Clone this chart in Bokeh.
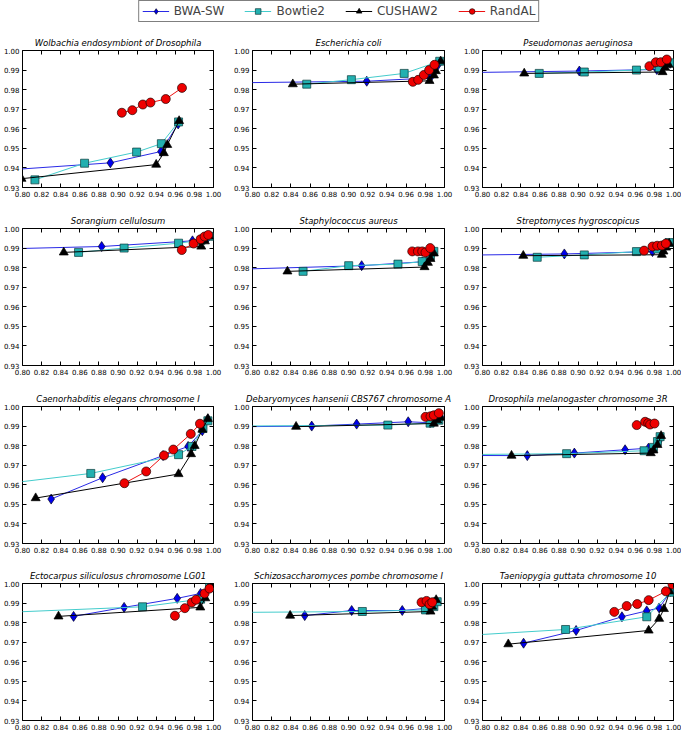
from bokeh.plotting import figure
from bokeh.layouts import column, row
from bokeh.models import FixedTicker, PrintfTickFormatter, LinearAxis, Legend, LegendItem
from bokeh.embed import file_html
from bokeh.resources import INLINE

# ---------------- data ----------------
titles = [
    "Wolbachia endosymbiont of Drosophila", "Escherichia coli", "Pseudomonas aeruginosa",
    "Sorangium cellulosum", "Staphylococcus aureus", "Streptomyces hygroscopicus",
    "Caenorhabditis elegans chromosome I", "Debaryomyces hansenii CBS767 chromosome A",
    "Drosophila melanogaster chromosome 3R",
    "Ectocarpus siliculosus chromosome LG01", "Schizosaccharomyces pombe chromosome I",
    "Taeniopygia guttata chromosome 10",
]
series_names = ["BWA-SW", "Bowtie2", "CUSHAW2", "RandAL"]
x_ticks = [0.80, 0.82, 0.84, 0.86, 0.88, 0.90, 0.92, 0.94, 0.96, 0.98, 1.00]
y_ticks = [0.93, 0.94, 0.95, 0.96, 0.97, 0.98, 0.99, 1.00]

bwa_x = [
    [0.75, 0.892, 0.945, 0.963],
    [0.75, 0.919, 0.985, 0.993],
    [0.75, 0.9014, 0.9825, 0.9965],
    [0.75, 0.8829, 0.978, 0.9941],
    [0.75, 0.9137, 0.977, 0.9889],
    [0.75, 0.8857, 0.978, 0.992],
    [0.830, 0.8839, 0.9472, 0.9734, 0.9883, 0.9941],
    [0.75, 0.8617, 0.9085, 0.9622, 0.985, 0.9958],
    [0.75, 0.8469, 0.8962, 0.9493, 0.9738, 0.9843],
    [0.8535, 0.9064, 0.962, 0.9865, 0.9958],
    [0.8544, 0.9033, 0.956, 0.981, 0.9913],
    [0.843, 0.898, 0.946, 0.972, 0.985, 0.997],
]
bwa_y = [
    [0.9378, 0.9426, 0.9484, 0.9625],
    [0.9833, 0.9843, 0.986, 0.9925],
    [0.9885, 0.9895, 0.9903, 0.9935],
    [0.9892, 0.9908, 0.9937, 0.9954],
    [0.9787, 0.981, 0.983, 0.9883],
    [0.9862, 0.987, 0.9882, 0.9923],
    [0.9527, 0.9636, 0.9749, 0.9796, 0.9876, 0.9935],
    [0.9895, 0.990, 0.991, 0.9922, 0.9917, 0.9948],
    [0.9750, 0.9749, 0.9762, 0.9779, 0.9787, 0.9821],
    [0.9832, 0.9878, 0.9924, 0.9949, 0.9985],
    [0.9836, 0.9862, 0.9862, 0.9873, 0.9905],
    [0.9695, 0.976, 0.983, 0.986, 0.9875, 0.996],
]
bt2_x = [
    [0.813, 0.865, 0.9195, 0.9454, 0.9634],
    [0.8565, 0.903, 0.958, 0.995],
    [0.8594, 0.9066, 0.9612, 0.985, 0.9965],
    [0.8587, 0.9064, 0.9634, 0.987, 0.996],
    [0.8527, 0.9002, 0.9515, 0.9768, 0.9854, 0.9889],
    [0.8573, 0.9066, 0.9612, 0.9832, 0.9955],
    [0.75, 0.8715, 0.9634, 0.9775, 0.989, 0.9941],
    [0.75, 0.941, 0.985, 0.9941],
    [0.75, 0.8881, 0.9692, 0.979, 0.9832, 0.986],
    [0.75, 0.9257, 0.9865, 0.9958],
    [0.75, 0.9144, 0.9802, 0.9889, 0.9924],
    [0.75, 0.887, 0.972, 0.997],
]
bt2_y = [
    [0.9339, 0.9424, 0.9481, 0.9524, 0.9635],
    [0.9828, 0.9851, 0.9883, 0.9945],
    [0.9883, 0.989, 0.990, 0.991, 0.9937],
    [0.9878, 0.990, 0.9925, 0.994, 0.996],
    [0.9781, 0.981, 0.9818, 0.9831, 0.9861, 0.9883],
    [0.9853, 0.9865, 0.9882, 0.9895, 0.9928],
    [0.9587, 0.9658, 0.9754, 0.9796, 0.9888, 0.9927],
    [0.9899, 0.9905, 0.9915, 0.993],
    [0.9753, 0.9759, 0.9774, 0.9791, 0.9821, 0.9846],
    [0.9846, 0.9881, 0.992, 0.998],
    [0.9851, 0.9857, 0.9865, 0.9882, 0.9907],
    [0.9725, 0.9765, 0.983, 0.9955],
]
cu_x = [
    [0.799, 0.940, 0.948, 0.9516, 0.964],
    [0.842, 0.9844, 0.989, 0.991, 0.996],
    [0.8437, 0.9885, 0.9913, 0.9948],
    [0.8432, 0.9872, 0.991, 0.9955],
    [0.8364, 0.9792, 0.9827, 0.9854, 0.9889],
    [0.8427, 0.9878, 0.9895, 0.9923, 0.9955],
    [0.8138, 0.9634, 0.9765, 0.9803, 0.9883, 0.9941],
    [0.8454, 0.9889, 0.9924, 0.9958],
    [0.8304, 0.9762, 0.979, 0.9832, 0.987],
    [0.8377, 0.9862, 0.9914, 0.9969],
    [0.8392, 0.9854, 0.9872, 0.9913],
    [0.827, 0.974, 0.985, 0.990, 0.996],
]
cu_y = [
    [0.9345, 0.9417, 0.9476, 0.9518, 0.964],
    [0.9828, 0.9845, 0.9873, 0.9895, 0.9945],
    [0.9883, 0.989, 0.9912, 0.9928],
    [0.9878, 0.9908, 0.9935, 0.996],
    [0.9781, 0.9803, 0.9825, 0.9845, 0.9873],
    [0.9861, 0.9866, 0.9883, 0.9903, 0.9923],
    [0.9532, 0.9655, 0.9757, 0.9799, 0.9882, 0.9937],
    [0.9897, 0.9913, 0.993, 0.9943],
    [0.9749, 0.9762, 0.9776, 0.9804, 0.985],
    [0.9832, 0.9878, 0.9925, 0.9993],
    [0.9836, 0.9857, 0.9882, 0.9916],
    [0.969, 0.976, 0.982, 0.987, 0.996],
]
ra_x = [
    [0.904, 0.915, 0.926, 0.934, 0.950, 0.967],
    [0.967, 0.9726, 0.9785, 0.984, 0.9896],
    [0.9748, 0.9815, 0.9867, 0.993],
    [0.9668, 0.9792, 0.9865, 0.9907, 0.9945],
    [0.9664, 0.9723, 0.9768, 0.9802, 0.9851],
    [0.9692, 0.978, 0.9829, 0.9878, 0.992],
    [0.9067, 0.9295, 0.9482, 0.9579, 0.9762, 0.9858],
    [0.9802, 0.9854, 0.9889, 0.9941],
    [0.9615, 0.9703, 0.9735, 0.9755, 0.9801],
    [0.9596, 0.97, 0.9772, 0.9817, 0.9907, 0.9958],
    [0.9761, 0.9813, 0.9844, 0.9872],
    [0.938, 0.951, 0.962, 0.974, 0.992, 0.999],
]
ra_y = [
    [0.9682, 0.9695, 0.9724, 0.9734, 0.9752, 0.9809],
    [0.984, 0.985, 0.9875, 0.990, 0.9927],
    [0.992, 0.994, 0.994, 0.9954],
    [0.989, 0.9923, 0.9945, 0.9959, 0.9967],
    [0.9883, 0.9883, 0.9883, 0.9878, 0.990],
    [0.9887, 0.9908, 0.9912, 0.9913, 0.9923],
    [0.9608, 0.9668, 0.975, 0.978, 0.986, 0.9912],
    [0.9947, 0.995, 0.9955, 0.9966],
    [0.9905, 0.9922, 0.9915, 0.9908, 0.9913],
    [0.9835, 0.9874, 0.9903, 0.9917, 0.9949, 0.9974],
    [0.9904, 0.9911, 0.9894, 0.9904],
    [0.9855, 0.9885, 0.9895, 0.9915, 0.996, 0.9995],
]

# ---------------- styles ----------------
FONT = "DejaVu Sans"
styles = [
    dict(line="#2a2ae6", marker="diamond", size=10, fill="#0000ee", edge="#000022"),
    dict(line="#44cccc", marker="square", size=8, fill="#22b0b0", edge="#0a3a3a"),
    dict(line="#000000", marker="triangle", size=9, fill="#000000", edge="#000000"),
    dict(line="#ee1111", marker="circle", size=9, fill="#ee0000", edge="#220000"),
]
all_x = [bwa_x, bt2_x, cu_x, ra_x]
all_y = [bwa_y, bt2_y, cu_y, ra_y]

FRAME_H = 137
LEFTS = [20, 22, 22]
FRAME_WS = [193, 192, 191]
RIGHTS = [17, 16, 8]
TOPS = [28, 27, 27, 26]
BOTTOMS = [14, 14, 14, 12]


def style_axis(ax, ticks, labels):
    ax.ticker = FixedTicker(ticks=ticks)
    ax.formatter = PrintfTickFormatter(format="%.2f")
    ax.major_tick_in = 4
    ax.major_tick_out = 0
    ax.minor_tick_line_color = None
    ax.axis_line_color = None
    ax.major_tick_line_color = "black"
    ax.major_tick_line_width = 1
    if labels:
        ax.major_label_text_font = FONT
        ax.major_label_text_font_size = "7px"
        ax.major_label_text_color = "black"
        ax.major_label_standoff = 3
    else:
        ax.major_label_text_font_size = "1px"
        ax.major_label_text_color = None
        ax.major_label_standoff = 0


def make_panel(i):
    c, r = i % 3, i // 3
    L, W, R = LEFTS[c], FRAME_WS[c], RIGHTS[c]
    T, B = TOPS[r], BOTTOMS[r]
    p = figure(width=L + W + R, height=T + FRAME_H + B,
               x_range=(0.80, 1.00), y_range=(0.93, 1.00),
               min_border_left=L, min_border_right=R, min_border_top=T,
               min_border_bottom=B, output_backend="svg", toolbar_location=None,
               x_axis_location=None, y_axis_location=None)
    p.grid.visible = False
    p.outline_line_color = "black"
    p.outline_line_width = 1
    p.background_fill_color = "white"
    p.border_fill_color = "white"
    for loc, ticks, lab in (("below", x_ticks, True), ("left", y_ticks, True),
                            ("above", x_ticks, False), ("right", y_ticks, False)):
        ax = LinearAxis()
        style_axis(ax, ticks, lab)
        p.add_layout(ax, loc)
    p.title.text = titles[i]
    p.title.text_font = FONT
    p.title.text_font_style = "italic"
    p.title.text_font_size = "8.5px"
    p.title.text_color = "black"
    p.title.align = "center"
    p.title.standoff = 6
    for k, st in enumerate(styles):
        xs, ys = all_x[k][i], all_y[k][i]
        p.line(xs, ys, line_color=st["line"], line_width=1)
        p.scatter(xs, ys, marker=st["marker"], size=st["size"], fill_color=st["fill"],
                  line_color=st["edge"], line_width=0.7)
    return p


# legend figure (glyph renderers hold points outside the visible range)
lg = figure(width=677, height=22, x_range=(0, 1), y_range=(0, 1), min_border=0,
            output_backend="svg", toolbar_location=None,
            x_axis_location=None, y_axis_location=None)
lg.grid.visible = False
lg.outline_line_color = None
items = []
for k, st in enumerate(styles):
    l = lg.line([-5, -4], [-5, -4], line_color=st["line"], line_width=1)
    s = lg.scatter([-5], [-5], marker=st["marker"], size=st["size"], fill_color=st["fill"],
                   line_color=st["edge"], line_width=0.7)
    items.append(LegendItem(label=series_names[k], renderers=[l, s]))
legend = Legend(items=items, orientation="horizontal", location="center",
                border_line_color="black", border_line_width=1,
                label_text_font=FONT, label_text_font_size="12px",
                glyph_width=27, glyph_height=14, label_height=14, label_standoff=5,
                spacing=20, padding=3, margin=0, background_fill_alpha=1)
lg.add_layout(legend, "center")

panels = [make_panel(i) for i in range(12)]
layout = column(lg, *[row(*panels[r * 3:r * 3 + 3]) for r in range(4)])

open("out.html", "w").write(file_html(layout, INLINE))
